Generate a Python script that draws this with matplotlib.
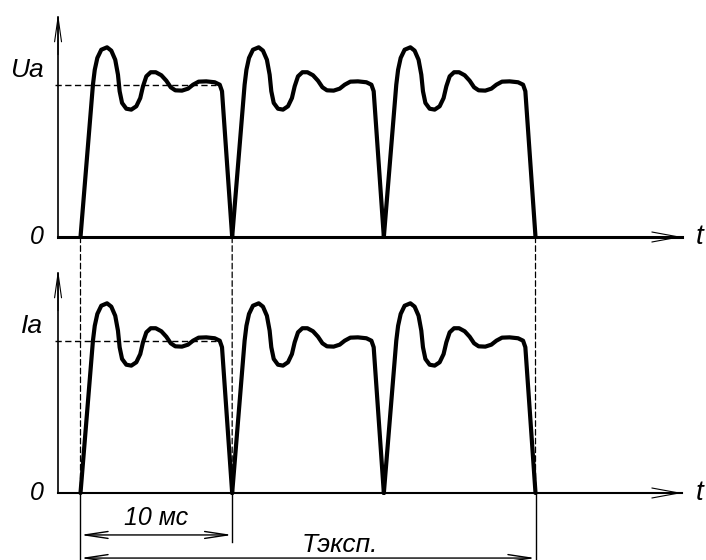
import matplotlib
matplotlib.use("Agg")
import matplotlib.pyplot as plt
from matplotlib.patches import ConnectionPatch

# one pulse, time in ms, amplitude relative to Ua / Ia
pulse_t = [0.0, 0.82, 0.94, 1.11, 1.37, 1.75, 2.03, 2.29, 2.47, 2.58, 2.74,
           3.02, 3.35, 3.68, 3.94, 4.12, 4.34, 4.63, 4.96, 5.33, 5.66, 5.95,
           6.25, 6.69, 7.09, 7.42, 7.79, 8.29, 8.85, 9.18, 9.33, 10.0]
pulse_v = [0.0, 1.002, 1.10, 1.178, 1.232, 1.248, 1.226, 1.166, 1.068, 0.959,
           0.882, 0.844, 0.838, 0.860, 0.914, 0.991, 1.057, 1.084, 1.084,
           1.064, 1.028, 0.985, 0.965, 0.963, 0.976, 1.002, 1.022, 1.024,
           1.018, 1.002, 0.959, 0.0]
pulse_starts = [0, 10, 20]          # ms
period = 10                          # ms
exposure = 30                        # ms
level_end = 8.93                     # dashed Ua / Ia line ends here (ms)
panel_labels = ["Ua", "Ia"]

plt.rcParams["font.family"] = ["Liberation Sans", "DejaVu Sans"]
plt.rcParams["font.style"] = "italic"

fig = plt.figure(figsize=(7.06, 5.6), dpi=100)
xlim = (-80.5 / 15.167, (706 - 80.5) / 15.167)
ax_top = fig.add_axes([0, 304 / 560, 1, 256 / 560])
ax_bot = fig.add_axes([0, 0, 1, 304 / 560])
ax_top.set_ylim(-19 / 152, 237 / 152)
ax_bot.set_ylim(-67 / 152, 237 / 152)

y_axis_x = -1.48
for ax, label, base_lw in [(ax_top, panel_labels[0], 2.2), (ax_bot, panel_labels[1], 1.5)]:
    ax.set_xlim(*xlim)
    ax.axis("off")
    ax.patch.set_alpha(0)
    for t0 in pulse_starts:
        ax.plot([t0 + t for t in pulse_t], pulse_v, color="black", lw=3.0,
                solid_joinstyle="round", solid_capstyle="round")
    # axes
    ax.plot([y_axis_x, 39.66], [0, 0], color="black", lw=base_lw)
    ax.plot([y_axis_x, y_axis_x], [0, 1.45], color="black", lw=1.2)
    ax.annotate("", xy=(39.66, 0), xytext=(36.0, 0),
                arrowprops=dict(arrowstyle="->,head_length=1.95,head_width=0.36",
                                lw=0.8, color="black", shrinkA=0, shrinkB=0,
                                mutation_scale=10))
    ax.annotate("", xy=(y_axis_x, 1.47), xytext=(y_axis_x, 1.2),
                arrowprops=dict(arrowstyle="->,head_length=1.75,head_width=0.25",
                                lw=0.8, color="black", shrinkA=0, shrinkB=0,
                                mutation_scale=10))
    ax.plot([y_axis_x - 0.2, level_end], [1, 1], color="black", lw=1.0,
            dashes=(4.5, 2.5))
    ax.text(-2.45, 1.10, label, ha="right", va="center", fontsize=19)
    ax.text(-2.87, 0, "0", ha="center", va="center", fontsize=18)
    ax.text(40.85, 0, "t", ha="center", va="center", fontsize=20)

# dashed verticals joining the two panels
for t in [0, period, exposure]:
    con = ConnectionPatch(xyA=(t, 0), coordsA=ax_top.transData,
                          xyB=(t, 0), coordsB=ax_bot.transData,
                          color="black", lw=0.9, linestyle=(0, (4.5, 2.5)))
    fig.add_artist(con)

# dimension lines under the lower panel
ax_bot.plot([0, 0], [0, -0.45], color="black", lw=1.0, clip_on=False)
ax_bot.plot([period, period], [0, -0.32], color="black", lw=1.0)
ax_bot.plot([exposure, exposure], [0, -0.45], color="black", lw=1.0, clip_on=False)
dim_style = dict(arrowstyle="<->,head_length=1.65,head_width=0.25", lw=1.0,
                 color="black", shrinkA=0, shrinkB=0, mutation_scale=10)
ax_bot.annotate("", xy=(0, -0.276), xytext=(period, -0.276), arrowprops=dim_style)
ax_bot.annotate("", xy=(0, -0.428), xytext=(exposure, -0.428), arrowprops=dim_style,
                annotation_clip=False)
ax_bot.text(period / 2, -0.164, "10 мс", ha="center", va="center", fontsize=18)
ax_bot.text(17.1, -0.342, "Тэксп.", ha="center", va="center", fontsize=19)

fig.savefig("out.png", dpi=100)
